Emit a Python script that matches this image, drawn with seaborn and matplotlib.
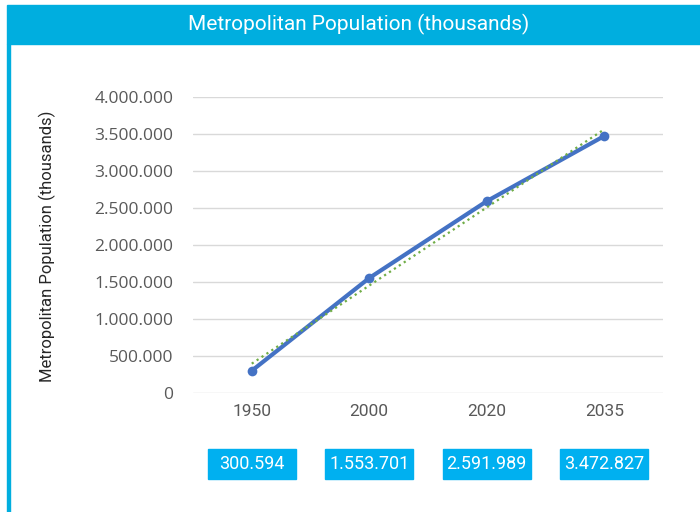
import seaborn as sns
import matplotlib.pyplot as plt
import matplotlib.transforms as mtransforms
from matplotlib.patches import Rectangle
from matplotlib.ticker import FuncFormatter

years = ['1950', '2000', '2020', '2035']
population = [300594, 1553701, 2591989, 3472827]
value_labels = ['300.594', '1.553.701', '2.591.989', '3.472.827']
title = 'Metropolitan Population (thousands)'
y_label = 'Metropolitan Population (thousands)'

sns.set_style('white')
narrow = ['Roboto', 'DejaVu Sans']

W, H = 700, 512
fig = plt.figure(figsize=(7, 5.12), dpi=100)
fig.patch.set_facecolor('white')

# header bar and left border
fig.patches.append(Rectangle((7 / W, 1 - 44 / H), (W - 7) / W, 39 / H,
                             transform=fig.transFigure, color='#00AEDF', zorder=0))
fig.patches.append(Rectangle((7 / W, 0), 3 / W, 1 - 44 / H,
                             transform=fig.transFigure, color='#00AEDF', zorder=0))
fig.text(359 / W, 1 - 24 / H, title, color='white', fontsize=15,
         family=narrow, ha='center', va='center')

ax = fig.add_axes([193 / W, 1 - 393 / H, 470 / W, 296 / H])
pos = list(range(len(years)))

sns.lineplot(x=pos, y=population, ax=ax, color='#4472C4', linewidth=3,
             marker='o', markersize=7, markeredgewidth=0, zorder=3)
sns.regplot(x=pos, y=population, ax=ax, scatter=False, ci=None, truncate=True,
            line_kws=dict(color='#70AD47', linestyle=':', linewidth=1.6, zorder=4))

ax.set_xlim(-0.5, len(years) - 0.5)
ax.set_ylim(0, 4000000)
ax.set_yticks(range(0, 4000001, 500000))
ax.yaxis.set_major_formatter(FuncFormatter(lambda v, p: f'{v:,.0f}'.replace(',', '.')))
ax.set_xticks(pos)
ax.set_xticklabels(years, family=narrow, fontsize=12.5, color='#595959')
for t in ax.get_yticklabels():
    t.set_family(['Open Sans', 'DejaVu Sans'])
    t.set_fontsize(12.5)
    t.set_color('#595959')
ax.tick_params(axis='y', length=0, pad=14)
ax.tick_params(axis='x', length=0, pad=8)
ax.grid(axis='y', color='#D9D9D9', linewidth=1)
for s in ax.spines.values():
    s.set_visible(False)
ax.set_xlabel('')
ax.set_ylabel('')
fig.text(47 / W, 1 - 246 / H, y_label, rotation=90, fontsize=12,
         family=narrow, color='#262626', ha='center', va='center')

# value boxes under each category
trans = mtransforms.blended_transform_factory(ax.transData, fig.transFigure)
for i, lab in enumerate(value_labels):
    fig.patches.append(Rectangle((i - 0.375, 1 - 479 / H), 0.75, 30 / H,
                                 transform=trans, color='#00B0F0', zorder=1))
    fig.text(i, 1 - 464 / H, lab, transform=trans, color='white', fontsize=13,
             family=narrow, ha='center', va='center', zorder=2)

fig.savefig('out.png', dpi=100)
